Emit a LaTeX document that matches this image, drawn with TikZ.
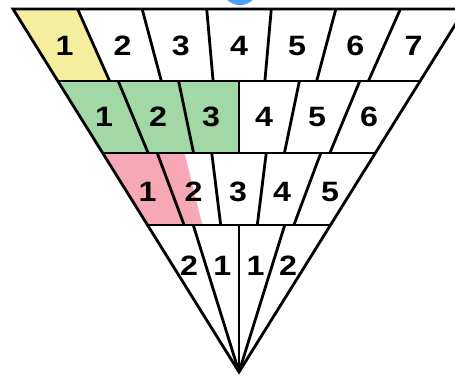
\documentclass[tikz,border=0pt]{standalone}
\usepackage{fontspec}
\setmainfont{Liberation Sans}[FakeStretch=1.15]
\usetikzlibrary{calc}

\definecolor{cellyellow}{RGB}{244,238,158}
\definecolor{cellgreen}{RGB}{161,216,166}
\definecolor{cellpink}{RGB}{247,168,182}
\definecolor{dotblue}{RGB}{74,160,250}

\begin{document}
\begin{tikzpicture}[x=1pt,y=-1pt,line width=2.8pt,line join=miter]
	\clip (0,0) rectangle (455,379);
	% corners of the rows
	\coordinate (Apex) at (239,372);
	\coordinate (Left 0) at (13,9);     \coordinate (Right 0) at (465,9);
	\coordinate (Left 1) at (57.8,81);  \coordinate (Right 1) at (420.2,81);
	\coordinate (Left 2) at (102.7,153); \coordinate (Right 2) at (375.3,153);
	\coordinate (Left 3) at (147.5,225); \coordinate (Right 3) at (330.5,225);

	\fill[dotblue] (240,-8) ellipse (16 and 13);

	% filled parts
	\fill[cellyellow] (Left 0) -- ($(Left 0)!1/7!(Right 0)$) -- ($(Left 1)!1/7!(Right 1)$) -- (Left 1) -- cycle;
	\fill[cellgreen] (Left 1) -- ($(Left 1)!3/6!(Right 1)$) -- ($(Left 2)!3/6!(Right 2)$) -- (Left 2) -- cycle;
	\fill[cellpink] (Left 2) -- ($(Left 2)!0.3!(Right 2)$) -- ($(Left 3)!0.3!(Right 3)$) -- (Left 3) -- cycle;

	% outline and rows
	\draw (Left 0) -- (Right 0) -- (Apex) -- cycle;
	\draw (Left 1) -- (Right 1);
	\draw (Left 2) -- (Right 2);
	\draw (Left 3) -- (Right 3);

	% dividers
	\draw ($(Left 0)!1/7!(Right 0)$) -- ($(Left 1)!1/7!(Right 1)$);
	\draw ($(Left 0)!2/7!(Right 0)$) -- ($(Left 1)!2/7!(Right 1)$);
	\draw ($(Left 0)!3/7!(Right 0)$) -- ($(Left 1)!3/7!(Right 1)$);
	\draw ($(Left 0)!4/7!(Right 0)$) -- ($(Left 1)!4/7!(Right 1)$);
	\draw ($(Left 0)!5/7!(Right 0)$) -- ($(Left 1)!5/7!(Right 1)$);
	\draw ($(Left 0)!6/7!(Right 0)$) -- ($(Left 1)!6/7!(Right 1)$);

	\draw ($(Left 1)!1/6!(Right 1)$) -- ($(Left 2)!1/6!(Right 2)$);
	\draw ($(Left 1)!2/6!(Right 1)$) -- ($(Left 2)!2/6!(Right 2)$);
	\draw ($(Left 1)!3/6!(Right 1)$) -- ($(Left 2)!3/6!(Right 2)$);
	\draw ($(Left 1)!4/6!(Right 1)$) -- ($(Left 2)!4/6!(Right 2)$);
	\draw ($(Left 1)!5/6!(Right 1)$) -- ($(Left 2)!5/6!(Right 2)$);

	\draw ($(Left 2)!1/5!(Right 2)$) -- ($(Left 3)!1/5!(Right 3)$);
	\draw ($(Left 2)!2/5!(Right 2)$) -- ($(Left 3)!2/5!(Right 3)$);
	\draw ($(Left 2)!3/5!(Right 2)$) -- ($(Left 3)!3/5!(Right 3)$);
	\draw ($(Left 2)!4/5!(Right 2)$) -- ($(Left 3)!4/5!(Right 3)$);

	\draw ($(Left 3)!1/4!(Right 3)$) -- (Apex);
	\draw ($(Left 3)!2/4!(Right 3)$) -- (Apex);
	\draw ($(Left 3)!3/4!(Right 3)$) -- (Apex);

	\begin{scope}[every node/.style={inner sep=0pt,font=\fontsize{28}{28}\selectfont\bfseries}]
		\node (Top 1) at (64.5,46) {1};
		\node (Top 2) at (122.7,46) {2};
		\node (Top 3) at (180.8,46) {3};
		\node (Top 4) at (239,46) {4};
		\node (Top 5) at (297.2,46) {5};
		\node (Top 6) at (355.3,46) {6};
		\node (Top 7) at (413.5,46) {7};
		\node (Upper 1) at (104,117) {1};
		\node (Upper 2) at (158,117) {2};
		\node (Upper 3) at (211,117) {3};
		\node (Upper 4) at (264,117) {4};
		\node (Upper 5) at (317,117) {5};
		\node (Upper 6) at (369,117) {6};
		\node (Lower 1) at (147.5,192) {1};
		\node (Lower 2) at (193.5,192) {2};
		\node (Lower 3) at (238,192) {3};
		\node (Lower 4) at (282,192) {4};
		\node (Lower 5) at (330,192) {5};
		\node (Tip left 2) at (189,266) {2};
		\node (Tip left 1) at (222.4,266) {1};
		\node (Tip right 1) at (255.6,266) {1};
		\node (Tip right 2) at (288,266) {2};
	\end{scope}
\end{tikzpicture}
\end{document}
